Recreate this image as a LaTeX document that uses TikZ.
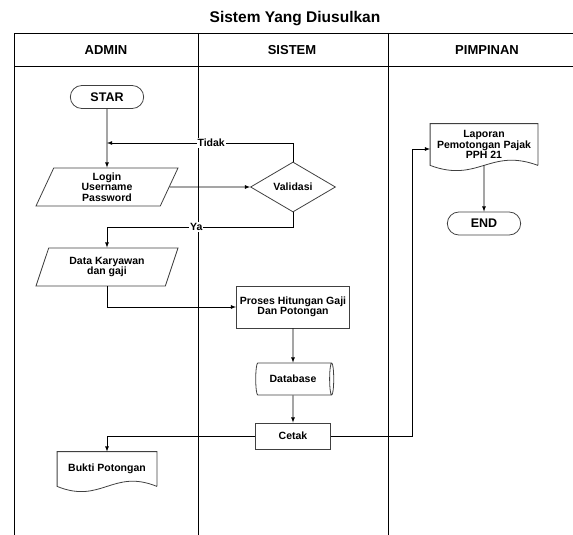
\documentclass[tikz,border=0pt]{standalone}
\usepackage{fontspec}
\setmainfont{Liberation Sans}
\usetikzlibrary{shapes.geometric,shapes.misc,positioning}

\begin{document}
\begin{tikzpicture}[x=1pt,y=-1pt,>=latex,line width=0.8pt,
    font=\fontsize{10.5}{10.5}\selectfont\bfseries,
    lane/.style={draw=black},
    head/.style={font=\fontsize{13}{13}\selectfont\bfseries},
    term/.style={rounded rectangle,draw=black!75,minimum width=80pt,minimum height=23pt,font=\fontsize{12.5}{12.5}\selectfont\bfseries},
    io/.style={trapezium,trapezium left angle=60,trapezium right angle=120,trapezium stretches body,draw=black!75,minimum width=142pt,minimum height=38pt,align=center,inner sep=1pt},
    decision/.style={diamond,draw=black!75,minimum width=85pt,minimum height=50pt,inner sep=0pt},
    process/.style={rectangle,draw=black!75,align=center},
    store/.style={cylinder,draw=black!75,aspect=0.35,minimum width=32pt,minimum height=78pt,inner sep=2pt},
    doc/.style={rectangle,align=center,inner sep=1pt},
    lbl/.style={fill=white,inner sep=1pt}]
    \useasboundingbox (0,0) rectangle (573,535);

    % swimlanes
    \node (title) at (295,19) {\fontsize{15.5}{15.5}\selectfont Sistem Yang Diusulkan};
    \draw[lane] (14,535) -- (14,33) -- (573,33);
    \draw[lane] (14,66) -- (573,66);
    \draw[lane] (198,33) -- (198,535);
    \draw[lane] (388,33) -- (388,535);
    \node[head] (hadmin) at (106,50) {ADMIN};
    \node[head] (hsistem) at (292,50) {SISTEM};
    \node[head] (hpimpinan) at (487,50) {PIMPINAN};

    \node[term] (star) at (107,97) {STAR};
    \node[io] (login) [below of=star,node distance=90pt] {Login\\Username\\Password};
    \node[decision] (valid) [right of=login,node distance=186pt] {Validasi};
    \node[io] (data) [below of=login,node distance=80pt] {Data Karyawan\\dan gaji};
    \node[process,minimum width=113pt,minimum height=42pt] (proses) [below of=valid,node distance=120pt] {Proses Hitungan Gaji\\Dan Potongan};
    \node[store] (db) [below of=proses,node distance=72pt] {Database};
    \node[process,minimum width=75pt,minimum height=26pt] (cetak) [below of=db,node distance=57pt] {Cetak};
    \node[doc,minimum width=99pt,minimum height=34pt] (bukti) [below of=data,node distance=202pt] {Bukti Potongan};
    \node[doc,minimum width=107pt,minimum height=41pt] (lap) at (484,144.5) {Laporan\\Pemotongan Pajak\\PPH 21};
    \node[term] (end) [below of=lap,node distance=79pt] {END};

    % document outlines
    \foreach \d/\w in {lap/48,bukti/44}
        \draw[draw=black!75] (\d.south east) -- (\d.north east) -- (\d.north west) -- (\d.south west)
            .. controls +(\w,18) and +(-\w,-18) .. (\d.south east);

    \coordinate (tidak) at (107,143);
    \coordinate (ya) at (107,227);
    \coordinate (up) at (412,149);

    \path[->] (star) edge (login)
        (login) edge (valid)
        (proses) edge (db)
        (db) edge (cetak)
        (lap) edge (end);
    \draw[->] (valid.north) |- node[pos=0.72,lbl] {Tidak} (tidak);
    \draw[->] (valid.south) |- node[pos=0.76,lbl] {Ya} (ya) -- (data);
    \draw[->] (data.south) |- (proses.west);
    \draw[->] (cetak.east) -| (up) -- (up -| lap.west);
    \draw[->] (cetak.west) -| (bukti.north);
\end{tikzpicture}
\end{document}
